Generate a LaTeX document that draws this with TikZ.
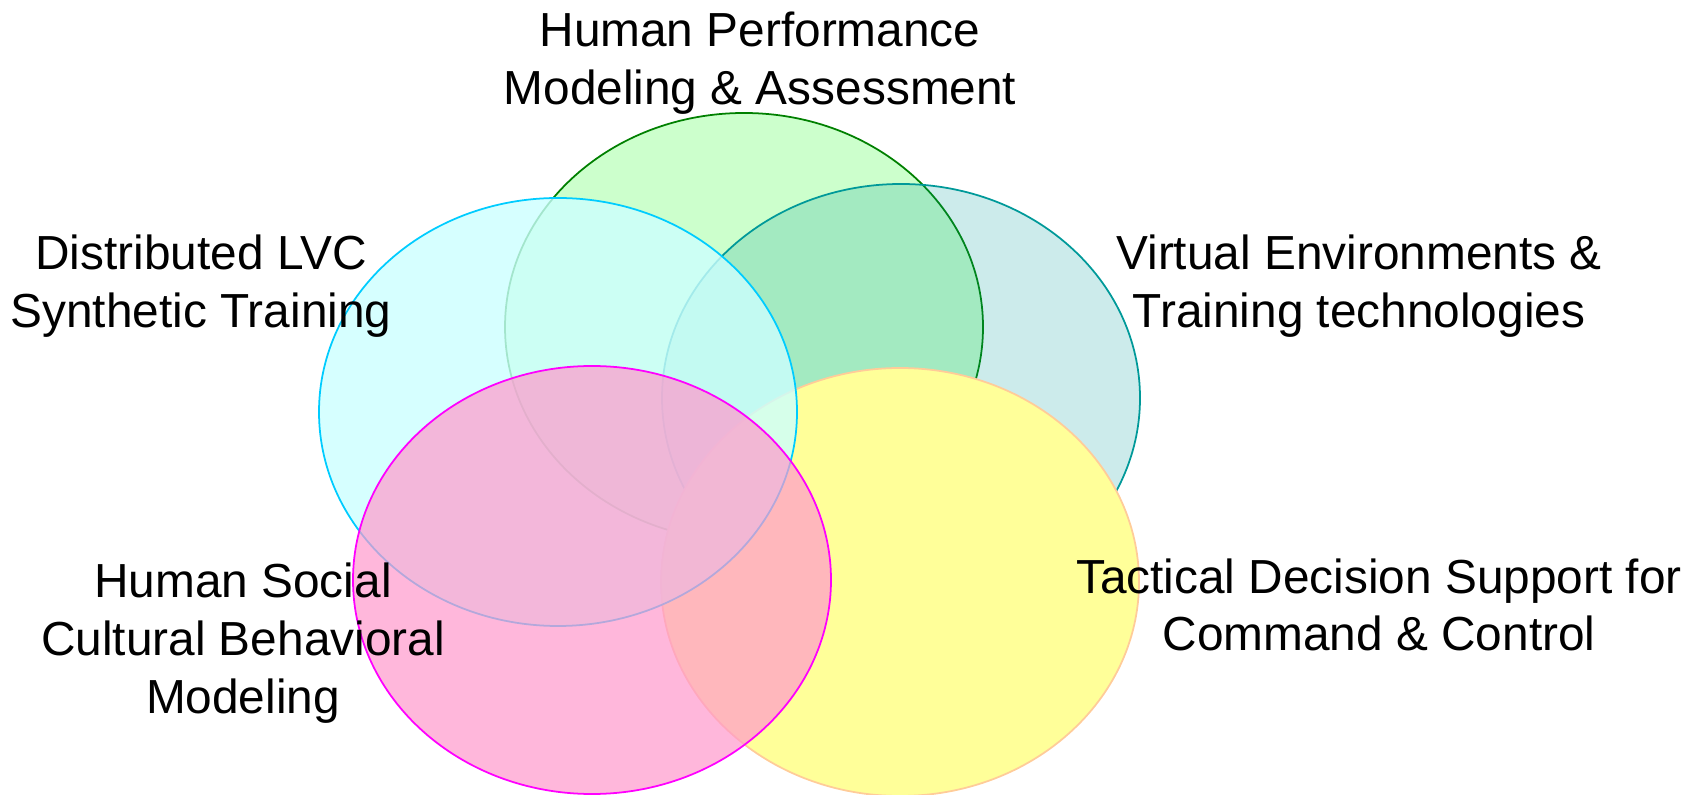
\documentclass[tikz,border=0pt]{standalone}
\usepackage{fontspec}
\setmainfont{Liberation Sans}
\usetikzlibrary{shapes.geometric}
\definecolor{perfFill}{RGB}{204,255,204}
\definecolor{perfLine}{RGB}{0,128,0}
\definecolor{virtFill}{RGB}{0,153,153}
\definecolor{lvcFill}{RGB}{204,255,255}
\definecolor{lvcLine}{RGB}{0,204,255}
\definecolor{socialFill}{RGB}{255,153,204}
\definecolor{socialLine}{RGB}{255,0,255}
\definecolor{tactFill}{RGB}{255,255,153}
\definecolor{tactLine}{RGB}{255,204,153}
\tikzset{
	       blob/.style = {ellipse, minimum width=4.78cm, minimum height=4.28cm, inner sep=0pt, line width=0.5pt},
	   areaText/.style = {align=center, font=\fontsize{13.6}{16.4}\selectfont, inner sep=0pt}
}
\begin{document}
\begin{tikzpicture}
		\useasboundingbox (0,0) rectangle (17.04,7.94);
		\node[blob, fill=perfFill, draw=perfLine]                              (perf)   at (7.44,4.67){};
		\node[blob, fill=virtFill, fill opacity=0.2, draw=virtFill]           (virt)   at (9.01,3.96){};
		\node[blob, fill=tactFill, draw=tactLine]                              (tact)   at (9.00,2.12){};
		\node[blob, fill=lvcFill, fill opacity=0.8, draw=lvcLine]             (lvc)    at (5.58,3.82){};
		\node[blob, fill=socialFill, fill opacity=0.7, draw=socialLine]       (social) at (5.92,2.14){};
		\node[areaText] (perfText)   at ( 7.60,7.31) {Human Performance\\Modeling \& Assessment};
		\node[areaText] (lvcText)    at ( 2.01,5.08) {Distributed LVC\\Synthetic Training};
		\node[areaText] (virtText)   at (13.59,5.08) {Virtual Environments \&\\Training technologies};
		\node[areaText] (socialText) at ( 2.43,1.51) {Human Social\\Cultural Behavioral\\Modeling};
		\node[areaText] (tactText)   at (13.79,1.89) {Tactical Decision Support for\\Command \& Control};
	\end{tikzpicture}
\end{document}
